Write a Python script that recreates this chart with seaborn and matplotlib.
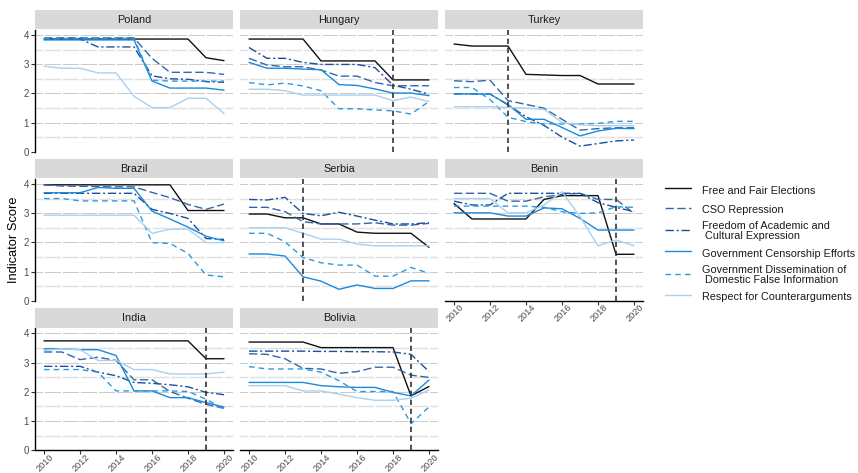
import numpy as np
import pandas as pd
import seaborn as sns
import matplotlib
matplotlib.use("Agg")
import matplotlib.pyplot as plt
from matplotlib.lines import Line2D
from matplotlib.transforms import ScaledTranslation

sns.set_theme(style="white")
plt.rcParams['font.family'] = ['Liberation Sans', 'DejaVu Sans']

years = list(range(2010, 2021))
indicators = ["Free and Fair Elections", "CSO Repression",
              "Freedom of Academic and\n Cultural Expression",
              "Government Censorship Efforts",
              "Government Dissemination of\n Domestic False Information",
              "Respect for Counterarguments"]
countries = ["Poland", "Hungary", "Turkey", "Brazil", "Serbia", "Benin", "India", "Bolivia"]

# order per country: elections, cso, academic, censorship, dissemination, counterarguments
poland = [
    [3.86, 3.86, 3.86, 3.86, 3.86, 3.86, 3.86, 3.86, 3.86, 3.22, 3.12],
    [3.90, 3.90, 3.90, 3.90, 3.90, 3.90, 3.20, 2.72, 2.72, 2.72, 2.65],
    [3.86, 3.86, 3.86, 3.59, 3.59, 3.59, 2.60, 2.50, 2.48, 2.40, 2.38],
    [3.83, 3.83, 3.83, 3.83, 3.83, 3.83, 2.42, 2.18, 2.18, 2.18, 2.11],
    [3.88, 3.88, 3.88, 3.88, 3.88, 3.88, 2.45, 2.42, 2.42, 2.42, 2.42],
    [2.93, 2.86, 2.86, 2.70, 2.70, 1.90, 1.51, 1.51, 1.83, 1.83, 1.31],
]
hungary = [
    [3.86, 3.86, 3.86, 3.86, 3.11, 3.11, 3.11, 3.11, 2.46, 2.46, 2.46],
    [3.20, 2.97, 2.91, 2.91, 2.80, 2.59, 2.59, 2.37, 2.26, 2.26, 2.26],
    [3.57, 3.20, 3.20, 3.06, 2.99, 2.99, 2.99, 2.88, 2.28, 2.14, 1.97],
    [3.06, 2.86, 2.86, 2.83, 2.81, 2.30, 2.27, 2.15, 2.01, 2.01, 1.92],
    [2.37, 2.29, 2.35, 2.25, 2.09, 1.47, 1.47, 1.43, 1.40, 1.29, 1.72],
    [2.14, 2.14, 2.09, 1.94, 1.94, 1.94, 1.94, 1.94, 1.75, 1.87, 1.72],
]
turkey = [
    [3.69, 3.62, 3.62, 3.62, 2.65, 2.63, 2.61, 2.61, 2.32, 2.32, 2.32],
    [2.43, 2.40, 2.45, 1.75, 1.62, 1.49, 1.11, 0.74, 0.79, 0.82, 0.82],
    [1.98, 1.98, 1.98, 1.60, 1.20, 0.90, 0.50, 0.19, 0.28, 0.37, 0.40],
    [1.98, 1.98, 1.97, 1.62, 1.11, 1.11, 0.83, 0.54, 0.71, 0.80, 0.79],
    [2.20, 2.20, 1.79, 1.18, 1.03, 0.95, 0.95, 0.95, 0.97, 1.04, 1.04],
    [1.54, 1.54, 1.54, 1.52, 1.49, 1.45, 1.00, 0.92, 0.89, 0.89, 0.89],
]
brazil = [
    [3.97, 3.97, 3.97, 3.97, 3.97, 3.97, 3.97, 3.97, 3.09, 3.09, 3.09],
    [3.97, 3.93, 3.92, 3.91, 3.90, 3.90, 3.71, 3.53, 3.30, 3.13, 3.31],
    [3.68, 3.68, 3.68, 3.68, 3.68, 3.68, 3.13, 2.99, 2.82, 2.13, 2.10],
    [3.70, 3.70, 3.70, 3.88, 3.85, 3.85, 3.07, 2.80, 2.52, 2.21, 2.05],
    [3.50, 3.50, 3.42, 3.42, 3.42, 3.42, 1.99, 1.96, 1.62, 0.88, 0.82],
    [2.93, 2.93, 2.93, 2.93, 2.93, 2.93, 2.31, 2.45, 2.45, 1.99, 1.99],
]
serbia = [
    [2.97, 2.97, 2.84, 2.84, 2.63, 2.63, 2.35, 2.31, 2.31, 2.31, 1.83],
    [3.20, 3.20, 3.05, 2.71, 2.63, 2.63, 2.63, 2.67, 2.59, 2.59, 2.65],
    [3.47, 3.45, 3.54, 2.99, 2.91, 3.03, 2.90, 2.76, 2.63, 2.63, 2.67],
    [1.60, 1.60, 1.53, 0.82, 0.67, 0.39, 0.54, 0.42, 0.42, 0.68, 0.68],
    [2.31, 2.31, 2.02, 1.48, 1.30, 1.22, 1.22, 0.84, 0.84, 1.14, 0.94],
    [2.50, 2.50, 2.50, 2.31, 2.11, 2.11, 1.94, 1.88, 1.88, 1.88, 1.88],
]
benin = [
    [3.33, 2.80, 2.80, 2.80, 2.80, 3.47, 3.60, 3.60, 3.60, 1.59, 1.59],
    [3.68, 3.68, 3.68, 3.41, 3.41, 3.56, 3.64, 3.68, 3.47, 3.47, 2.99],
    [3.41, 3.28, 3.28, 3.68, 3.68, 3.68, 3.68, 3.68, 3.36, 3.20, 3.05],
    [3.01, 3.01, 3.01, 2.90, 2.90, 3.18, 3.15, 2.82, 2.42, 2.42, 2.42],
    [3.24, 3.24, 3.24, 3.24, 3.24, 3.20, 3.05, 2.99, 3.01, 3.22, 3.20],
    [3.50, 3.50, 3.50, 3.01, 3.01, 3.28, 3.73, 2.88, 1.88, 2.08, 1.88],
]
india = [
    [3.74, 3.74, 3.74, 3.74, 3.74, 3.74, 3.74, 3.74, 3.74, 3.13, 3.13],
    [3.36, 3.36, 3.10, 3.18, 3.07, 2.41, 2.41, 2.01, 1.78, 1.57, 1.44],
    [2.87, 2.87, 2.87, 2.67, 2.55, 2.32, 2.29, 2.24, 2.17, 1.98, 1.90],
    [3.47, 3.47, 3.44, 3.44, 3.24, 2.03, 2.03, 1.80, 1.80, 1.63, 1.48],
    [2.76, 2.76, 2.76, 2.67, 2.03, 2.03, 2.03, 2.03, 2.01, 1.75, 1.40],
    [3.41, 3.47, 3.44, 3.07, 3.07, 2.76, 2.76, 2.61, 2.61, 2.61, 2.67],
]
bolivia = [
    [3.70, 3.70, 3.70, 3.70, 3.51, 3.51, 3.51, 3.51, 3.51, 1.86, 2.18],
    [3.30, 3.28, 3.13, 2.80, 2.78, 2.63, 2.69, 2.84, 2.84, 2.57, 2.49],
    [3.39, 3.39, 3.39, 3.39, 3.38, 3.38, 3.37, 3.37, 3.36, 3.28, 2.69],
    [2.32, 2.32, 2.32, 2.32, 2.21, 2.17, 2.15, 2.15, 1.98, 1.86, 2.40],
    [2.86, 2.78, 2.78, 2.78, 2.67, 2.38, 2.01, 2.01, 2.01, 0.91, 1.48],
    [2.21, 2.21, 2.21, 2.03, 2.03, 1.92, 1.80, 1.71, 1.71, 1.78, 2.06],
]
country_values = {"Poland": poland, "Hungary": hungary, "Turkey": turkey,
                  "Brazil": brazil, "Serbia": serbia, "Benin": benin,
                  "India": india, "Bolivia": bolivia}
event_years = {"Hungary": 2018, "Turkey": 2013, "Serbia": 2013,
               "Benin": 2019, "India": 2019, "Bolivia": 2019}

colors = ["#111111", "#3466ad", "#1b4f9b", "#1a8ade", "#2a9ae0", "#a9d0f0"]
dash_list = ["", (6, 2.5), (6, 2, 1.5, 2), "", (4, 3), ""]
palette = dict(zip(indicators, colors))
dashes = dict(zip(indicators, dash_list))

rows = []
for c in countries:
    for ind, vals in zip(indicators, country_values[c]):
        for y, v in zip(years, vals):
            rows.append((c, ind, y, v))
df = pd.DataFrame(rows, columns=["country", "indicator", "year", "score"])

W, H = 858, 473
fig = plt.figure(figsize=(W / 100, H / 100), dpi=100)

col_x = [35, 240, 445]
pw = 198
row_top = [30, 179, 328.3]
row_bot = [151.7, 300.7, 450.3]
strip_h = 19.5

bottom_panels = {"India", "Bolivia", "Benin"}

def fx(x):
    return x / W

def fy(y):
    return 1 - y / H

for i, c in enumerate(countries):
    r, k = divmod(i, 3)
    x0 = col_x[k]
    top, bot = row_top[r], row_bot[r]
    ax = fig.add_axes([fx(x0), fy(bot), pw / W, (bot - top) / H])
    sub = df[df.country == c]
    sns.lineplot(data=sub, x="year", y="score", hue="indicator", style="indicator",
                 palette=palette, dashes=dashes, hue_order=indicators,
                 style_order=indicators, linewidth=1.0, legend=False, ax=ax, zorder=3)
    ax.set_xlim(2009.5, 2020.5)
    ax.set_ylim(0, 4.17)
    ax.set_yticks([0, 1, 2, 3, 4])
    ax.set_yticks([0.5, 1.5, 2.5, 3.5], minor=True)
    ax.set_axisbelow(True)
    ax.grid(False)
    ax.grid(axis="y", which="major", color="#c2c2c2", linewidth=0.6)
    ax.grid(axis="y", which="minor", color="#e0e0e0", linewidth=1.0)
    for yr in years:
        ax.axvline(yr, color="white", linewidth=1.3, zorder=1.5)
    if c in event_years:
        ax.axvline(event_years[c], color="#333333", linewidth=1.2,
                   linestyle=(0, (3.2, 2.2)), zorder=4)
    ax.set_xlabel("")
    ax.set_ylabel("")
    for s in ax.spines.values():
        s.set_visible(False)
    ax.tick_params(which="minor", length=0)
    if k == 0:
        ax.spines["left"].set_visible(True)
        ax.spines["left"].set_color("black")
        ax.spines["left"].set_linewidth(1.0)
        ax.tick_params(axis="y", which="major", length=3, width=0.8, color="#333333",
                       labelsize=7, labelcolor="#4d4d4d", pad=1.5, left=True)
    else:
        ax.tick_params(axis="y", which="both", left=False, labelleft=False)
    if c in bottom_panels:
        ax.spines["bottom"].set_visible(True)
        ax.spines["bottom"].set_color("black")
        ax.spines["bottom"].set_linewidth(1.0)
        ax.set_xticks(list(range(2010, 2021, 2)))
        ax.tick_params(axis="x", which="major", length=3, width=0.8, color="#333333",
                       labelsize=6.6, labelcolor="#4d4d4d", pad=0.0, bottom=True)
        off = ScaledTranslation(0.05, 0.02, fig.dpi_scale_trans)
        for lbl in ax.get_xticklabels():
            lbl.set_rotation(45)
            lbl.set_ha("right")
            lbl.set_va("top")
            lbl.set_rotation_mode("anchor")
            lbl.set_transform(lbl.get_transform() + off)
    else:
        ax.set_xticks([])
    # strip
    sax = fig.add_axes([fx(x0), fy(top - 0.5), pw / W, strip_h / H])
    sax.set_facecolor("#d9d9d9")
    sax.set_xticks([])
    sax.set_yticks([])
    for s in sax.spines.values():
        s.set_visible(False)
    sax.text(0.5, 0.5, c, ha="center", va="center", fontsize=7.8, color="#1a1a1a",
             transform=sax.transAxes)

fig.text(fx(14), fy(240), "Indicator Score", rotation=90, ha="center", va="center",
         fontsize=9.3, color="black")

handles = [Line2D([0], [0], color=palette[ind], linewidth=1.0,
                  linestyle="-" if dashes[ind] == "" else (0, dashes[ind]))
           for ind in indicators]
leg = fig.legend(handles, indicators, loc="upper left",
                 bbox_to_anchor=(fx(665), fy(183)), frameon=False, fontsize=7.8,
                 handlelength=2.4, handletextpad=1.0, labelspacing=0.42,
                 handleheight=1.7, borderpad=0, borderaxespad=0)
for t in leg.get_texts():
    t.set_linespacing(1.0)
    t.set_color("#1a1a1a")

fig.savefig("out.png", dpi=100)
